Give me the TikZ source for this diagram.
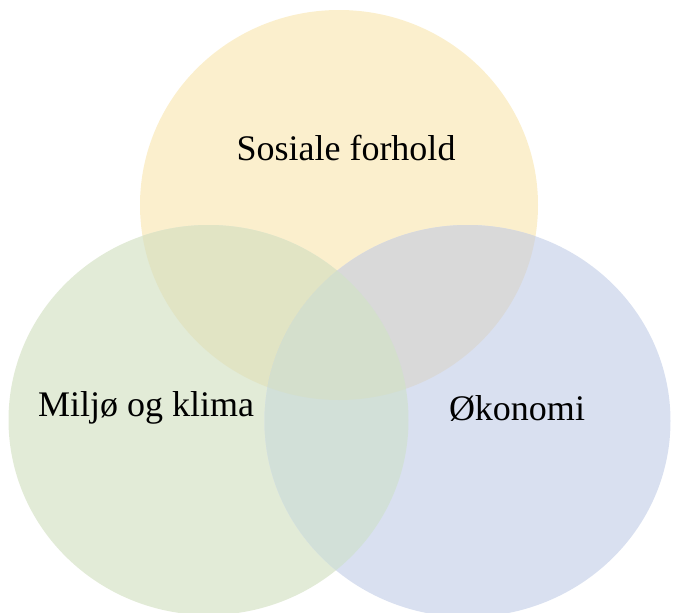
\documentclass[tikz,border=0pt]{standalone}
\usepackage{fontspec}
\setmainfont{Liberation Serif}
\definecolor{cY}{RGB}{251,239,205}
\definecolor{cG}{RGB}{226,235,215}
\definecolor{cB}{RGB}{217,224,240}
\definecolor{cYG}{RGB}{225,228,196}
\definecolor{cYB}{RGB}{217,217,217}
\definecolor{cGB}{RGB}{210,224,216}
\definecolor{cYGB}{RGB}{212,223,204}
\begin{document}
\begin{tikzpicture}[x=1pt,y=-1pt,
  lbl/.style={font=\fontsize{36}{40}\selectfont, text=black, inner sep=0pt}]
\useasboundingbox (0,0) rectangle (673,613);
\def\Yc{(339,205) ellipse[x radius=199, y radius=195]}
\def\Gc{(208.5,420) ellipse[x radius=200, y radius=195]}
\def\Bc{(467.5,421) ellipse[x radius=203, y radius=196]}
\fill[cY] \Yc;
\fill[cG] \Gc;
\fill[cB] \Bc;
\begin{scope}\clip \Yc; \fill[cYG] \Gc; \end{scope}
\begin{scope}\clip \Yc; \fill[cYB] \Bc; \end{scope}
\begin{scope}\clip \Gc; \fill[cGB] \Bc; \end{scope}
\begin{scope}\clip \Yc; \clip \Gc; \fill[cYGB] \Bc; \end{scope}
\node[lbl] (sos) at (346,148) {Sosiale forhold};
\node[lbl] (mil) at (146,408) {Miljø og klima};
\node[lbl] (oko) at (517,408) {Økonomi};
\end{tikzpicture}
\end{document}
